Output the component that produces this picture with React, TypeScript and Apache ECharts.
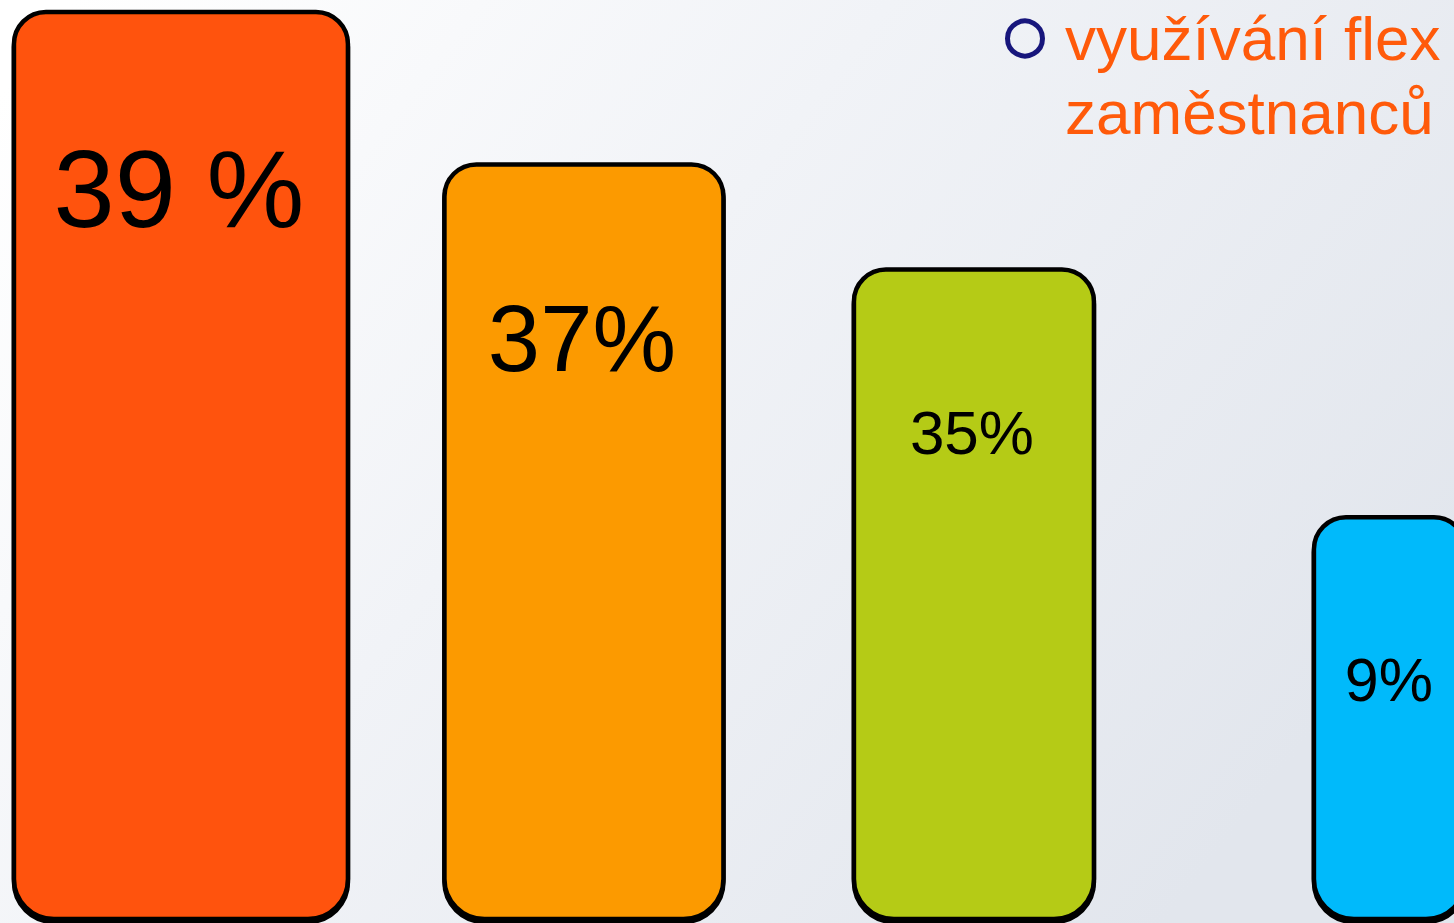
import React, { useEffect, useRef } from "react";
import * as echarts from "echarts";

// ---- data ----
const categories = ["A", "B", "C", "D"];
const percentLabels = ["39 %", "37%", "35%", "9%"];
// displayed bar heights (share of full height, 0-100)
const barHeights = [100, 83.2, 71.6, 44.3];
const legendLines = ["využívání flex", "zaměstnanců"];

// ---- styles ----
const barColors = ["#FF5308", "#FC9A00", "#B5CB14", "#00BAFB"];
const barWidths = [334, 279, 240, 152];
const barShifts = [0, 0, -13, 0];
const labelFontSizes = [110, 94, 62, 61];
const labelOffsets = [176, 174, 163, 163];
const labelShifts = [-2, -2, -2, -1];
const FONT = "'Liberation Sans', Arial, sans-serif";

export default function App() {
  const ref = useRef<HTMLDivElement>(null);

  useEffect(() => {
    if (!ref.current) return;
    const chart = echarts.init(ref.current, null, { renderer: "svg" });
    chart.setOption({
      animation: false,
      backgroundColor: {
        type: "linear",
        x: 0,
        y: 0.1,
        x2: 1,
        y2: 0.6,
        colorStops: [
          { offset: 0, color: "#FFFFFF" },
          { offset: 0.45, color: "#F1F3F7" },
          { offset: 1, color: "#E2E6ED" },
        ],
      },
      grid: { left: 0, right: 0, top: 12, bottom: 4 },
      xAxis: {
        type: "value",
        min: -0.449,
        max: 3.159,
        show: false,
      },
      yAxis: {
        type: "value",
        min: 0,
        max: 100,
        show: false,
      },
      series: [
        {
          type: "custom",
          name: "bars",
          clip: false,
          data: barHeights.map((h, i) => ({ name: categories[i], value: [i, h] })),
          encode: { x: 0, y: 1 },
          renderItem: (params: any, api: any) => {
            const i = params.dataIndex;
            const top = api.coord([api.value(0), api.value(1)]);
            const base = api.coord([api.value(0), 0]);
            const w = barWidths[i];
            const cx = top[0] + barShifts[i];
            return {
              type: "group",
              children: [
                {
                  type: "rect",
                  shape: {
                    x: cx - w / 2,
                    y: top[1],
                    width: w,
                    height: base[1] - top[1],
                    r: [32, 32, 40, 40],
                  },
                  style: {
                    fill: barColors[i],
                    stroke: "#000",
                    lineWidth: 4.5,
                    shadowColor: "#000",
                    shadowOffsetY: 3,
                    shadowBlur: 0,
                  },
                },
                {
                  type: "text",
                  x: cx + labelShifts[i],
                  y: top[1] + labelOffsets[i],
                  style: {
                    text: percentLabels[i],
                    fontSize: labelFontSizes[i],
                    fontFamily: FONT,
                    fill: "#000",
                    align: "center",
                    verticalAlign: "middle",
                  },
                },
              ],
            };
          },
        },
      ],
      graphic: [
        {
          type: "circle",
          shape: { cx: 1025, cy: 38.5, r: 17.5 },
          style: { fill: "none", stroke: "#17167C", lineWidth: 5 },
        },
        {
          type: "text",
          x: 1065,
          y: 38,
          style: {
            text: legendLines[0],
            fontSize: 62,
            fontFamily: FONT,
            fill: "#FF5A0A",
            align: "left",
            verticalAlign: "middle",
          },
        },
        {
          type: "text",
          x: 1065,
          y: 112,
          style: {
            text: legendLines[1],
            fontSize: 62,
            fontFamily: FONT,
            fill: "#FF5A0A",
            align: "left",
            verticalAlign: "middle",
          },
        },
      ],
    });
    return () => chart.dispose();
  }, []);

  return (
    <div
      ref={ref}
      style={{ position: "fixed", left: 0, top: 0, width: 1454, height: 923 }}
    />
  );
}
